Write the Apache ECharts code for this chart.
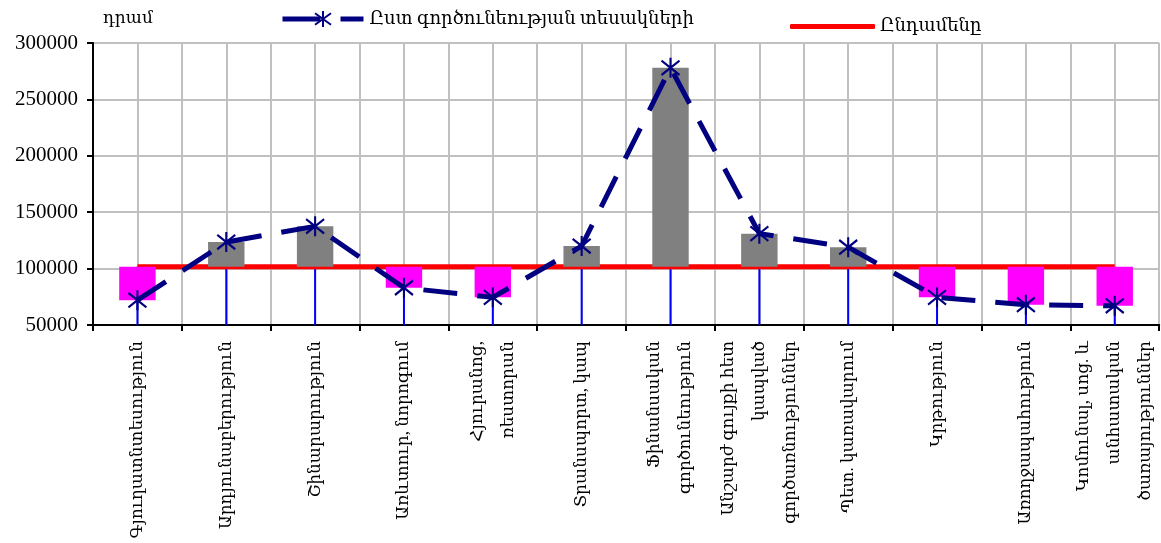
<!DOCTYPE html>
<html>
<head>
<meta charset="utf-8">
<script src="https://cdn.jsdelivr.net/npm/echarts@6/dist/echarts.min.js"></script>
<style>
html,body{margin:0;padding:0;background:#fff;}
#chart{width:1161px;height:543px;}
</style>
</head>
<body>
<div id="chart"></div>
<script>
const categories = [
  "Գյուղատնտեսություն",
  "Արդյունաբերություն",
  "Շինարարություն",
  "Առևտուր, նորոգում",
  "Հյուրանոց,\nռեստորան",
  "Տրանսպորտ, կապ",
  "Ֆինանսական\nգործունեություն",
  "Անշարժ գույքի հետ\nկապված\nգործառնություններ",
  "Պետ. կառավարում",
  "Կրթություն",
  "Առողջապահություն",
  "Կոմունալ, սոց. և\nանհատական\nծառայություններ"
];
const byActivity = [72000, 123500, 137500, 83000, 74500, 120000, 278000, 131000, 119000, 74500, 68000, 67000];
const totalAll = [101700, 101700, 101700, 101700, 101700, 101700, 101700, 101700, 101700, 101700, 101700, 101700];
const yMin = 50000, yMax = 300000, yStep = 50000;
const seriesNames = ["Ըստ գործունեության տեսակների", "Ընդամենը"];
const unitLabel = "դրամ";

const FONT = "'Liberation Serif', 'DejaVu Serif', serif";
const halfCats = [];
for (let i = 0; i < categories.length * 2; i++) halfCats.push('h' + i);

const asterisk = 'path://M0,2.5L16,15.5M16,2.5L0,15.5M8,0L8,18';

const chart = echarts.init(document.getElementById('chart'));
const triples = categories.map((c, i) => [i, byActivity[i], totalAll[i]]);

chart.setOption({
  animation: false,
  backgroundColor: '#fff',
  textStyle: { fontFamily: FONT },
  grid: { left: 93, right: -4, top: 43, bottom: 218, containLabel: false },
  graphic: [{
    type: 'text', left: 103, top: 10,
    style: { text: unitLabel, font: "17px " + FONT, fill: '#000' }
  }],
  legend: [{
    data: [seriesNames[0]], left: 280, top: 10, padding: 0,
    itemWidth: 81, itemHeight: 20, selectedMode: false,
    lineStyle: { width: 5, type: [38, 20], color: '#000080', cap: 'butt' },
    itemStyle: { color: '#000080', borderColor: '#000080', borderWidth: 2 },
    textStyle: { fontFamily: FONT, fontSize: 18, color: '#000', padding: [6, 0, 0, 1] }
  }, {
    data: [{ name: seriesNames[1], icon: 'roundRect' }], left: 790, top: 17.5, padding: 0,
    itemWidth: 85, itemHeight: 5, selectedMode: false,
    itemStyle: { color: '#ff0000' },
    textStyle: { fontFamily: FONT, fontSize: 18, color: '#000', padding: [11, 0, 0, 0] }
  }],
  xAxis: [{
    type: 'category', data: categories, boundaryGap: true, position: 'bottom',
    axisLine: { lineStyle: { color: '#000', width: 2 } },
    axisTick: { show: true, length: 6, lineStyle: { color: '#000', width: 2 }, alignWithLabel: false },
    splitLine: { show: false },
    axisLabel: { rotate: 90, interval: 0, margin: 16, fontFamily: FONT, fontSize: 17, lineHeight: 31, color: '#000' }
  }, {
    type: 'category', data: halfCats, boundaryGap: true, position: 'top',
    axisLine: { show: false }, axisTick: { show: false }, axisLabel: { show: false },
    splitLine: { show: true, interval: 0, lineStyle: { color: '#c0c0c0', width: 2 } }
  }],
  yAxis: {
    type: 'value', min: yMin, max: yMax, interval: yStep,
    axisLine: { show: true, lineStyle: { color: '#000', width: 2 } },
    axisTick: { show: true, length: 6, lineStyle: { color: '#000', width: 2 } },
    splitLine: { show: true, lineStyle: { color: '#c0c0c0', width: 2 } },
    axisLabel: { margin: 15, fontFamily: FONT, fontSize: 21, color: '#000', formatter: function (v) { return String(v); } }
  },
  series: [{
    type: 'custom', name: 'drop', z: 1, silent: true,
    data: triples,
    encode: { x: 0, y: 1 },
    renderItem: function (params, api) {
      const i = api.value(0);
      const top = Math.max(api.value(1), api.value(2));
      const p1 = api.coord([i, yMin]);
      const p2 = api.coord([i, top]);
      return { type: 'line', shape: { x1: p1[0], y1: p1[1], x2: p2[0], y2: p2[1] },
        style: { stroke: '#0000ff', lineWidth: 2 } };
    }
  }, {
    type: 'line', name: seriesNames[1], data: totalAll, z: 2,
    symbol: 'none', showSymbol: false,
    lineStyle: { color: '#ff0000', width: 5 }, itemStyle: { color: '#ff0000' }
  }, {
    type: 'custom', name: 'updown', z: 3, silent: true,
    data: triples,
    encode: { x: 0, y: 1 },
    renderItem: function (params, api) {
      const i = api.value(0);
      const v = api.value(1), t = api.value(2);
      const a = api.coord([i, v]);
      const b = api.coord([i, t]);
      const w = api.size([1, 0])[0] * 0.41;
      return { type: 'rect', shape: { x: a[0] - w / 2, y: Math.min(a[1], b[1]), width: w, height: Math.abs(a[1] - b[1]) },
        style: { fill: v >= t ? '#808080' : '#ff00ff' } };
    }
  }, {
    type: 'line', name: seriesNames[0], data: byActivity, z: 4,
    symbol: asterisk, symbolSize: [18, 20], showSymbol: true,
    lineStyle: { color: '#000080', width: 5, type: [34, 20], cap: 'butt' },
    itemStyle: { color: '#000080', borderColor: '#000080', borderWidth: 2.2 }
  }]
});
</script>
</body>
</html>
